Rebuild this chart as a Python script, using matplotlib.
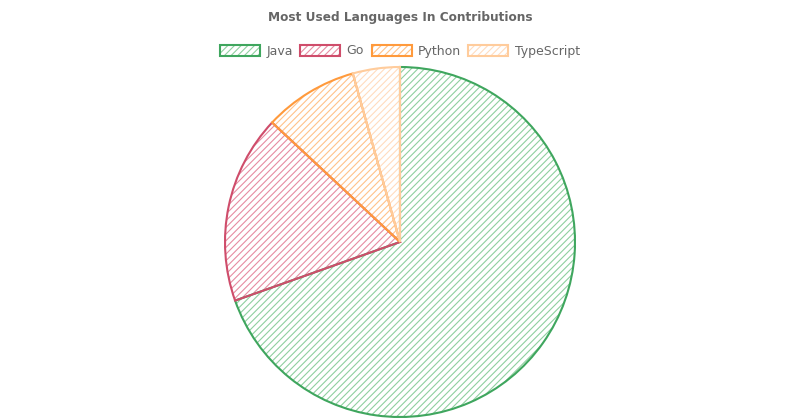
import matplotlib.pyplot as plt
from matplotlib.patches import Patch
from matplotlib.legend_handler import HandlerTuple

# Language counts in contributions
languages = ["Java", "Go", "Python", "TypeScript"]
counts = [16, 4, 2, 1]

edge_colors = ["#3fa65e", "#cf4d6b", "#ff9a3c", "#ffcc9c"]
hatch_colors = ["#8fcf9f", "#e68ca2", "#ffc38a", "#ffdcbf"]

plt.rcParams["hatch.linewidth"] = 0.8

fig = plt.figure(figsize=(8, 4.18), dpi=100)
ax = fig.add_axes([225 / 800, 1 / 418, 350 / 800, 350 / 418])

# hatched fill, then outline on top
fills, _ = ax.pie(counts, startangle=90, counterclock=False, radius=1,
                  colors=["none"] * len(counts),
                  wedgeprops=dict(linewidth=0, fill=False))
for w, c in zip(fills, hatch_colors):
    w.set_edgecolor(c)
    w.set_hatch("/////")
    w.set_linewidth(0)

outlines, _ = ax.pie(counts, startangle=90, counterclock=False, radius=1,
                     wedgeprops=dict(fill=False, linewidth=1.5))
for w, c in zip(outlines, edge_colors):
    w.set_edgecolor(c)

ax.set_xlim(-1.0, 1.0)
ax.set_ylim(-1.0, 1.0)
ax.set_aspect("equal")
ax.axis("off")

fig.text(0.5, 1 - 17 / 418, "Most Used Languages In Contributions",
         ha="center", va="center", fontsize=8.7, fontweight="bold", color="#666666")

handles = []
for hc, ec in zip(hatch_colors, edge_colors):
    h1 = Patch(fill=False, edgecolor=hc, hatch="/////", linewidth=0)
    h2 = Patch(fill=False, edgecolor=ec, linewidth=1.5)
    handles.append((h1, h2))

leg = fig.legend(handles, languages, loc="center", bbox_to_anchor=(0.5, 1 - 51 / 418),
                 ncol=4, frameon=False, fontsize=9, handlelength=3.2, handleheight=1.0,
                 handletextpad=0.5, columnspacing=0.6,
                 handler_map={tuple: HandlerTuple(ndivide=1, pad=0)})
for t in leg.get_texts():
    t.set_color("#666666")

fig.savefig("out.png", dpi=100)
plt.close(fig)
